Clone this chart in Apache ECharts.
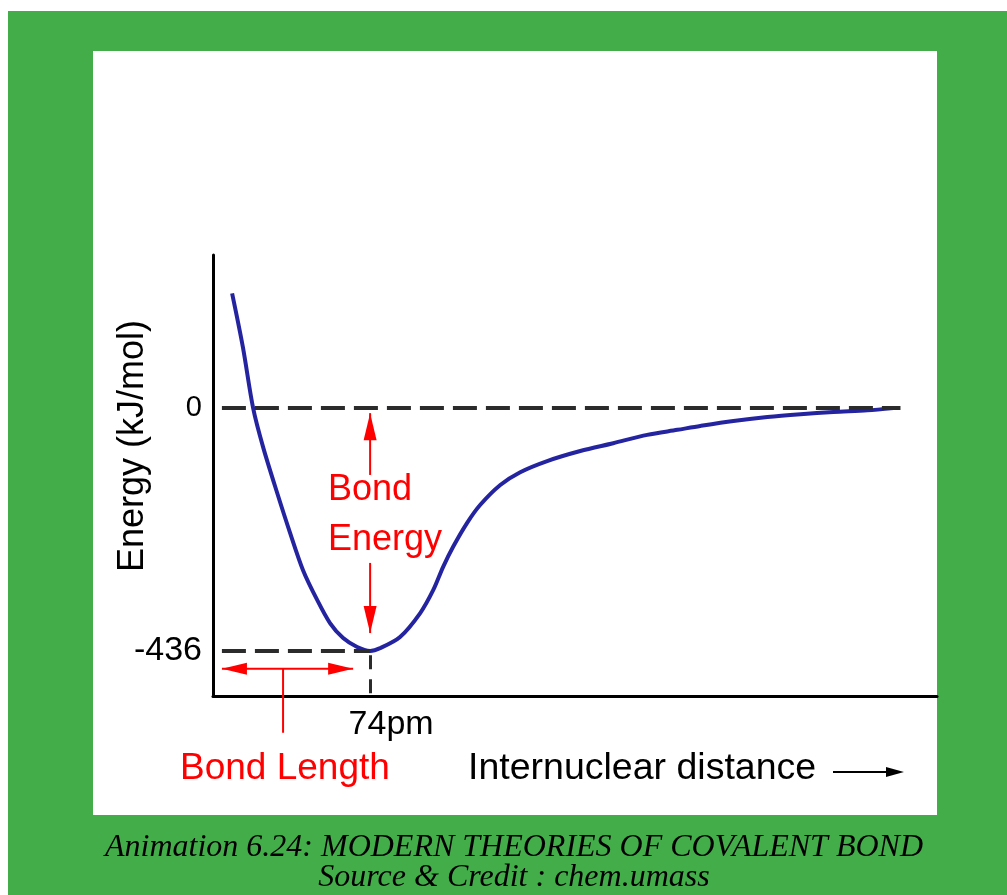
<!DOCTYPE html>
<html><head><meta charset="utf-8">
<script src="https://cdn.jsdelivr.net/npm/echarts@6/dist/echarts.min.js"></script>
<style>
html,body{margin:0;padding:0;background:#fff;width:1007px;height:895px;overflow:hidden;}
#green{position:absolute;left:8px;top:11px;width:999px;height:884px;background:#43ad4a;}
#panel{position:absolute;left:93px;top:51px;width:844px;height:764px;background:#fff;}
#chart{position:absolute;left:0;top:0;width:1007px;height:895px;}
</style></head><body>
<div id="green"></div><div id="panel"></div><div id="chart"></div>
<script>
// Potential energy curve (H2): internuclear distance (pm) vs energy (kJ/mol)
const distancePm = [9.0, 14.1, 18.9, 23.6, 30.2, 36.3, 42.4, 49.0, 55.1, 61.3, 67.9, 74, 78.7, 88.1, 97.6, 103.7, 108.4, 113.1, 119.7, 125.8, 135.3, 144.7, 157.4, 173.0, 188.5, 204.5, 218.7, 229.5, 245.1, 261.1, 276.7, 292.2, 308.2, 320.5];
const energyKJ = [206, 109, 0, -70, -152, -224, -291, -344, -386, -413, -429, -436, -431, -411, -368, -327, -285, -249, -206, -174, -138, -115, -95, -77, -63, -48, -39, -32, -23, -16, -11, -7, -4, 0];
const yTickValues = [0, -436];
const xTickValues = [74];
const bondLengthPm = 74;
const bondEnergyKJ = -436;
const texts = {
  yName: 'Energy (kJ/mol)',
  xName: 'Internuclear distance',
  bondEnergy1: 'Bond',
  bondEnergy2: 'Energy',
  bondLength: 'Bond Length',
  caption1: 'Animation 6.24: MODERN THEORIES OF COVALENT BOND',
  caption2: 'Source & Credit : chem.umass'
};

const SANS = '"Liberation Sans", Arial, Helvetica, sans-serif';
const SERIF = '"Liberation Serif", "Times New Roman", serif';
const chart = echarts.init(document.getElementById('chart'), null, {renderer: 'canvas'});
const seriesData = distancePm.map((d, i) => [d, energyKJ[i]]);
const xMin = 0, xMax = 341, yMin = -517, yMax = 275;

chart.setOption({
  animation: false,
  backgroundColor: 'transparent',
  grid: {left: 213, right: 70, top: 255, bottom: 199, containLabel: false},
  xAxis: {
    type: 'value', min: xMin, max: xMax,
    axisLine: {show: true, onZero: false, lineStyle: {color: '#000', width: 3}},
    axisTick: {show: false},
    splitLine: {show: false},
    axisLabel: {
      customValues: xTickValues, margin: 12, color: '#000',
      formatter: v => '{s| }{t|' + v + 'pm}',
      rich: {s: {width: 42, fontSize: 34, fontFamily: SANS}, t: {fontSize: 34, fontFamily: SANS, color: '#000'}}
    }
  },
  yAxis: {
    type: 'value', min: yMin, max: yMax,
    axisLine: {show: true, onZero: false, lineStyle: {color: '#000', width: 3}},
    axisTick: {show: false},
    splitLine: {show: false},
    axisLabel: {
      customValues: yTickValues, margin: 11, color: '#000',
      formatter: v => v === 0 ? '{a|0}' : '{b|' + v + '}',
      rich: {a: {fontSize: 29, fontFamily: SANS, color: '#000'}, b: {fontSize: 34, fontFamily: SANS, color: '#000'}}
    }
  },
  series: [{
    type: 'line', data: seriesData, smooth: 0.3,
    showSymbol: false, clip: false,
    lineStyle: {color: '#2424a0', width: 4},
    markLine: {
      silent: true, symbol: 'none', label: {show: false},
      lineStyle: {color: '#2b2b2b', width: 4, type: [24, 9]},
      data: [
        [{coord: [4.2, 0]}, {coord: [323.8, 0]}],
        [{coord: [4.2, bondEnergyKJ]}, {coord: [bondLengthPm, bondEnergyKJ]}],
        [{coord: [bondLengthPm, bondEnergyKJ - 8], lineStyle: {type: [14, 10], width: 3}}, {coord: [bondLengthPm, yMin]}]
      ]
    }
  }]
});

const P = (x, y) => chart.convertToPixel({gridIndex: 0}, [x, y]);
const RED = '#ff0000';
function line(a, b, color, w) {
  return {type: 'line', z: 10, shape: {x1: a[0], y1: a[1], x2: b[0], y2: b[1]}, style: {stroke: color, lineWidth: w}};
}
function head(tip, from, len, wid, color) {
  const dx = tip[0] - from[0], dy = tip[1] - from[1];
  const L = Math.hypot(dx, dy); const ux = dx / L, uy = dy / L;
  const bx = tip[0] - ux * len, by = tip[1] - uy * len;
  const px = -uy * wid / 2, py = ux * wid / 2;
  return {type: 'polygon', z: 10, shape: {points: [[tip[0], tip[1]], [bx + px, by + py], [bx - px, by - py]]}, style: {fill: color}};
}
function txt(x, y, s, font, color, align, rot) {
  return {type: 'text', z: 10, x: x, y: y, rotation: rot || 0,
    style: {x: 0, y: 0, text: s, font: font, fill: color, align: align || 'left', verticalAlign: 'middle'}};
}

const g = [];
// Bond energy arrows (vertical at bond length)
const eTop = P(bondLengthPm, -9), eTopEnd = P(bondLengthPm, -120);
const eBot = P(bondLengthPm, -404), eBotStart = P(bondLengthPm, -278);
g.push(line(eTopEnd, eTop, RED, 2), head(eTop, eTopEnd, 27, 13, RED));
g.push(line(eBotStart, eBot, RED, 2), head(eBot, eBotStart, 27, 13, RED));
// Bond length double arrow
const lA = P(4.2, -468), lB = P(66, -468);
g.push(line(lA, lB, RED, 2), head(lA, lB, 25, 12, RED), head(lB, lA, 25, 12, RED));
const tick0 = P(33, -468), tick1 = P(33, -583);
g.push(line(tick0, tick1, RED, 2));
// texts
g.push(txt(133, 446, texts.yName, '36px ' + SANS, '#000', 'center', Math.PI / 2));
g.push(txt(328, 490, texts.bondEnergy1, '36px ' + SANS, RED));
g.push(txt(328, 540, texts.bondEnergy2, '36px ' + SANS, RED));
g.push(txt(180, 769, texts.bondLength, '37px ' + SANS, RED));
g.push(txt(468, 769, texts.xName, '37.5px ' + SANS, '#000'));
// x arrow
g.push(line([833, 772], [888, 772], '#000', 2), head([904, 772], [833, 772], 18, 10, '#000'));
// caption
g.push(txt(514, 848, texts.caption1, 'italic 32px ' + SERIF, '#000', 'center'));
g.push(txt(514, 878, texts.caption2, 'italic 32px ' + SERIF, '#000', 'center'));
chart.setOption({graphic: g});
</script>
</body></html>
